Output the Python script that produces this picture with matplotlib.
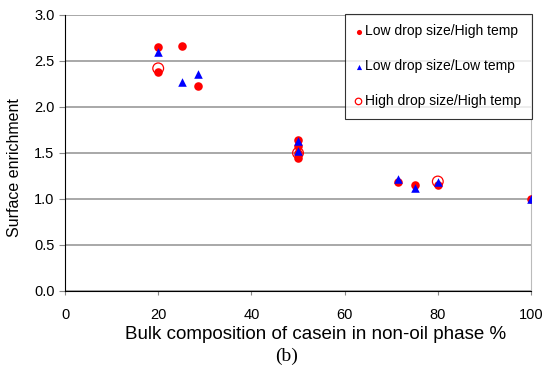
import matplotlib
matplotlib.use("Agg")
import matplotlib.pyplot as plt

plt.rcParams['font.family'] = ['Liberation Sans', 'DejaVu Sans']

# Low drop size / High temp (filled red circles)
ldht_x = [20, 20, 25, 28.5, 50, 50, 50, 50, 71.5, 75, 80, 100]
ldht_y = [2.65, 2.38, 2.66, 2.23, 1.64, 1.58, 1.50, 1.45, 1.19, 1.15, 1.15, 1.00]
# Low drop size / Low temp (blue triangles)
ldlt_x = [20, 25, 28.5, 50, 50, 71.5, 75, 80, 100]
ldlt_y = [2.60, 2.27, 2.36, 1.63, 1.52, 1.22, 1.12, 1.19, 1.00]
# High drop size / High temp (open red circles)
hdht_x = [20, 50, 80]
hdht_y = [2.42, 1.50, 1.19]

labels = ["Low drop size/High temp", "Low drop size/Low temp", "High drop size/High temp"]
xticks = [0, 20, 40, 60, 80, 100]
yticks = [0.0, 0.5, 1.0, 1.5, 2.0, 2.5, 3.0]

fig = plt.figure(figsize=(5.46, 3.76), dpi=100)
ax = fig.add_axes([65/546, 1-291/376, (531-65)/546, (291-15)/376])

h3 = ax.scatter(hdht_x, hdht_y, s=60, facecolors='none', edgecolors='#ff0000', linewidths=0.9, zorder=3, label=labels[2])
h1 = ax.scatter(ldht_x, ldht_y, s=38, c='#ff0000', marker='o', linewidths=0, zorder=4, label=labels[0])
h2 = ax.scatter(ldlt_x, ldlt_y, s=38, c='#0000ff', marker='^', linewidths=0, zorder=5, label=labels[1])

ax.set_xlim(0, 100)
ax.set_ylim(0, 3.0)
ax.set_xticks(xticks)
ax.set_yticks(yticks)
ax.set_yticklabels([f"{v:.1f}" for v in yticks])
ax.yaxis.grid(True, color='#999999', linewidth=1.2)
ax.set_axisbelow(True)

ax.spines['top'].set_visible(False)
ax.spines['right'].set_color('#bbbbbb')
ax.spines['left'].set_color('black')
ax.spines['bottom'].set_color('black')
ax.tick_params(axis='y', direction='out', length=4, color='#888888', labelsize=10.5)
ax.tick_params(axis='x', direction='out', length=3, color='#888888', labelsize=10.5, pad=9)

ax.set_ylabel("Surface enrichment", fontsize=11.5, labelpad=9)
ax.yaxis.label.set_y(0.446)
ax.set_xlabel("Bulk composition of casein in non-oil phase %", fontsize=13.5, labelpad=3)
ax.xaxis.label.set_x((316-65)/466)

leg = ax.legend(handles=[h1, h2, h3], labels=labels, loc='upper right',
                bbox_to_anchor=(532/546, 1-14/376), bbox_transform=fig.transFigure,
                borderaxespad=0, fontsize=10, frameon=True, fancybox=False,
                edgecolor='black', labelspacing=1.5, handletextpad=0.3,
                handlelength=0.4, borderpad=0.75, markerscale=0.6, scatterpoints=1)
leg.get_frame().set_linewidth(0.8)

fig.text(287/546, 1-356/376, "(b)", fontsize=14, family=['Liberation Serif', 'DejaVu Serif'],
         ha='center', va='center')

fig.savefig("out.png", dpi=100)
